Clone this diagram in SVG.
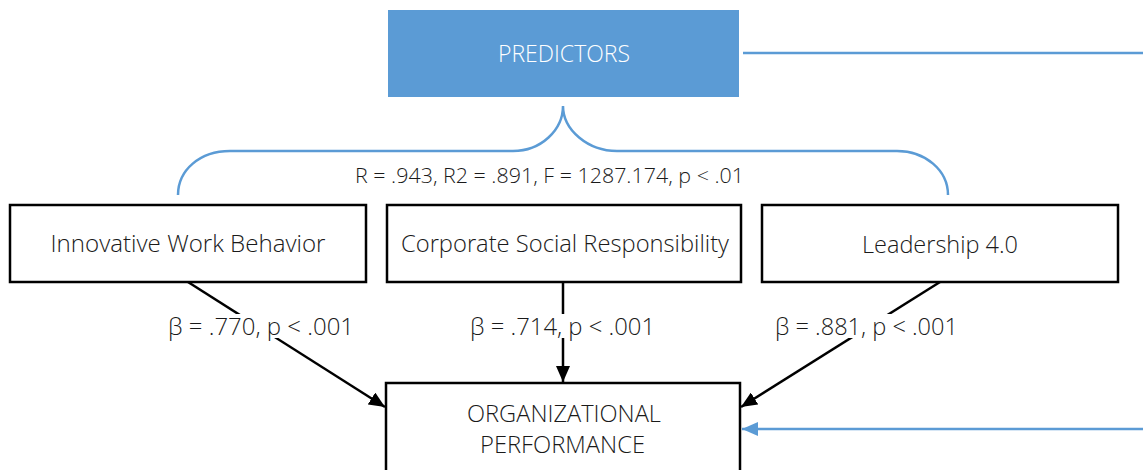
<svg xmlns="http://www.w3.org/2000/svg" width="1143" height="470" viewBox="0 0 1143 470">
<style>
.box{fill:#ffffff;stroke:#000000;stroke-width:2.5}
.t{font-family:"Open Sans","Liberation Sans",sans-serif;font-weight:300;fill:#1a1a1a;text-anchor:middle}
.big{font-size:23px}
.small{font-size:19.5px}
.blue{fill:none;stroke:#5B9BD5;stroke-width:2.5}
.arr{fill:none;stroke:#000000;stroke-width:2.5;marker-end:url(#ah)}
.bg{fill:#ffffff}
</style>
<defs>
<marker id="ah" markerUnits="userSpaceOnUse" markerWidth="18" markerHeight="14" refX="16" refY="7" orient="auto">
<path d="M0,0 L16,7 L0,14 Z" fill="#000000"/>
</marker>
<marker id="ahb" markerUnits="userSpaceOnUse" markerWidth="18" markerHeight="14" refX="16" refY="7" orient="auto">
<path d="M0,0 L16,7 L0,14 Z" fill="#5B9BD5"/>
</marker>
</defs>

<g id="connectors">
<path class="blue" d="M743,53 L1143,53"/>
<path class="blue" d="M178,195 C178,170 200,151 230,151 L513,151 C541,151 563,130 563,106 C563,130 588,151 617,151 L897,151 C925,151 948,170 948,195"/>
<path class="arr" d="M188,282 L385,407"/>
<path class="arr" d="M563,282 L563,382"/>
<path class="arr" d="M940,282 L741,407"/>
<path class="blue" d="M1143,429 L742,429" marker-end="url(#ahb)"/>
</g>

<g id="predictors">
<rect x="388" y="10" width="351" height="87" fill="#5B9BD5"/>
<text class="t big" x="564" y="62" style="fill:#ffffff" textLength="132" lengthAdjust="spacingAndGlyphs">PREDICTORS</text>
</g>

<g id="model-stats">
<text class="t small" x="549.5" y="183" textLength="389" lengthAdjust="spacingAndGlyphs">R = .943, R2 = .891, F = 1287.174, p &lt; .01</text>
</g>

<g id="innovative-work-behavior">
<rect class="box" x="10" y="205" width="356" height="77"/>
<text class="t big" x="188" y="252" textLength="275" lengthAdjust="spacingAndGlyphs">Innovative Work Behavior</text>
</g>

<g id="corporate-social-responsibility">
<rect class="box" x="387" y="205" width="354" height="77"/>
<text class="t big" x="565" y="252" textLength="328" lengthAdjust="spacingAndGlyphs">Corporate Social Responsibility</text>
</g>

<g id="leadership">
<rect class="box" x="762" y="205" width="356" height="77"/>
<text class="t big" x="940" y="253" textLength="156" lengthAdjust="spacingAndGlyphs">Leadership 4.0</text>
</g>

<g id="organizational-performance">
<rect class="box" x="386" y="383" width="354" height="100"/>
<text class="t big" x="564" y="422" textLength="194" lengthAdjust="spacingAndGlyphs">ORGANIZATIONAL</text>
<text class="t big" x="562.5" y="453" textLength="165" lengthAdjust="spacingAndGlyphs">PERFORMANCE</text>
</g>

<g id="labels">
<rect class="bg" x="166" y="314" width="190" height="24"/>
<text class="t big" x="261" y="335" textLength="186" lengthAdjust="spacingAndGlyphs">β = .770, p &lt; .001</text>
<rect class="bg" x="468" y="314" width="189" height="24"/>
<text class="t big" x="562.5" y="335" textLength="185" lengthAdjust="spacingAndGlyphs">β = .714, p &lt; .001</text>
<rect class="bg" x="773" y="314" width="187" height="24"/>
<text class="t big" x="866.5" y="335" textLength="183" lengthAdjust="spacingAndGlyphs">β = .881, p &lt; .001</text>
</g>
</svg>
